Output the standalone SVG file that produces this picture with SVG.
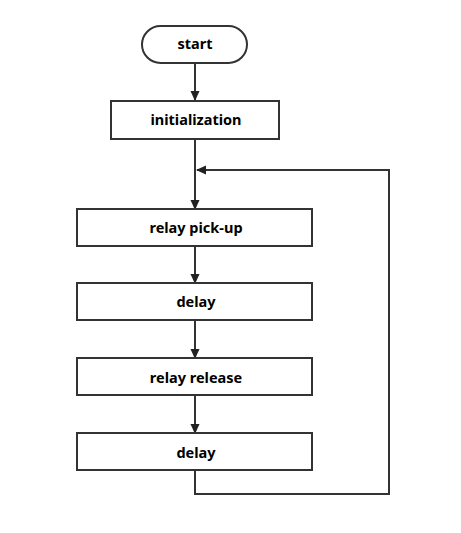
<svg xmlns="http://www.w3.org/2000/svg" width="461" height="533" viewBox="0 0 461 533">
<defs>
<marker id="ah" markerWidth="10" markerHeight="10" refX="9" refY="5" orient="auto" markerUnits="userSpaceOnUse">
<path d="M0,0.5 L10,5 L0,9.5 Z" fill="#222"/>
</marker>
<style>
.box{fill:#fff;stroke:#333;stroke-width:2}
.lbl{font-family:"Noto Sans","DejaVu Sans",sans-serif;font-weight:bold;font-size:14.5px;fill:#000;text-anchor:middle;dominant-baseline:central}
.ln{fill:none;stroke:#333;stroke-width:2}
</style>
</defs>
<rect width="461" height="533" fill="#fff"/>
<g id="connectors">
<path class="ln" d="M195,63 V100" marker-end="url(#ah)"/>
<path class="ln" d="M195,139 V209" marker-end="url(#ah)"/>
<path class="ln" d="M195,246 V283" marker-end="url(#ah)"/>
<path class="ln" d="M195,320 V358" marker-end="url(#ah)"/>
<path class="ln" d="M195,395 V433" marker-end="url(#ah)"/>
<path class="ln" d="M195,470 V494 H389 V170 H197" marker-end="url(#ah)"/>
</g>
<g id="start"><rect class="box" x="142" y="26" width="105" height="37" rx="18.5"/><text class="lbl" x="195" y="42.5">start</text></g>
<g id="init"><rect class="box" x="111" y="101" width="168" height="38"/><text class="lbl" x="196" y="119">initialization</text></g>
<g id="pickup"><rect class="box" x="77" y="209" width="235" height="37"/><text class="lbl" x="196" y="227">relay pick-up</text></g>
<g id="delay1"><rect class="box" x="77" y="283" width="235" height="37"/><text class="lbl" x="196" y="301">delay</text></g>
<g id="release"><rect class="box" x="77" y="358" width="235" height="37"/><text class="lbl" x="196" y="376.5">relay release</text></g>
<g id="delay2"><rect class="box" x="77" y="433" width="235" height="37"/><text class="lbl" x="196" y="451.5">delay</text></g>
</svg>
